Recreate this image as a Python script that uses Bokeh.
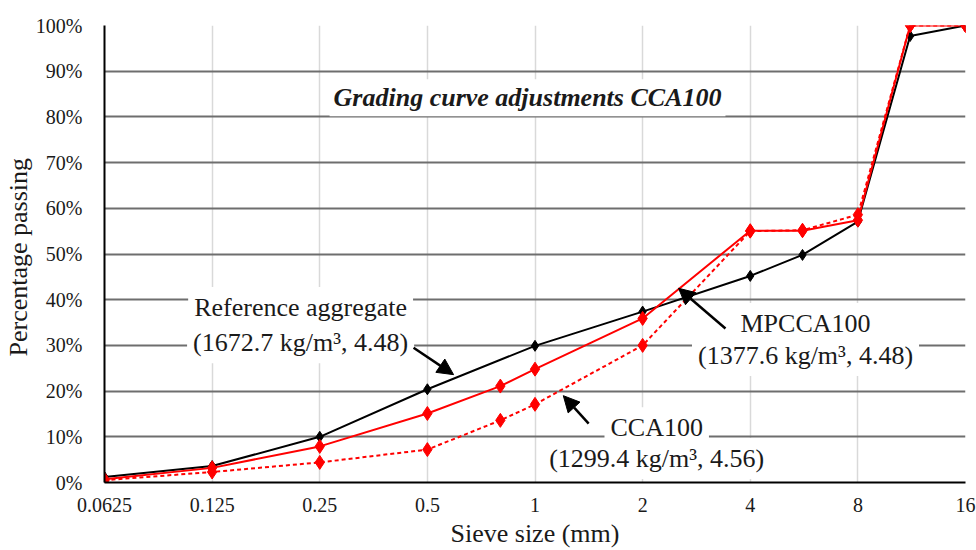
from bokeh.plotting import figure
from bokeh.models import (Label, Arrow, NormalHead, FixedTicker, CustomJSTickFormatter,
                          Range1d)
from bokeh.embed import file_html
from bokeh.resources import INLINE

# ---- data ----
sieve_ticks = [0.0625, 0.125, 0.25, 0.5, 1, 2, 4, 8, 16]
pct_ticks = [0, 10, 20, 30, 40, 50, 60, 70, 80, 90, 100]

ref_sieve = [0.0625, 0.125, 0.25, 0.5, 1, 2, 4, 5.6, 8, 11.2, 16]
ref_pass = [1.2, 3.6, 10.0, 20.4, 29.9, 37.4, 45.2, 49.8, 57.1, 97.7, 100]

mp_sieve = [0.0625, 0.125, 0.25, 0.5, 0.8, 1, 2, 4, 5.6, 8, 11.2, 16]
mp_pass = [0.7, 3.2, 7.9, 15.1, 21.1, 24.8, 35.9, 55.1, 55.1, 57.4, 100, 100]

cca_sieve = [0.0625, 0.125, 0.25, 0.5, 0.8, 1, 2, 4, 5.6, 8, 11.2, 16]
cca_pass = [0.5, 2.3, 4.4, 7.2, 13.6, 17.1, 30.0, 55.0, 55.2, 58.6, 100, 100]

FONT = "Liberation Serif"

p = figure(width=976, height=550, x_axis_type="log", output_backend="svg",
           toolbar_location=None, x_range=Range1d(0.0625, 16), y_range=Range1d(0, 100),
           min_border_left=104, min_border_top=25, min_border_bottom=68, min_border_right=11)
p.outline_line_color = None
p.background_fill_color = "white"

# axes
p.xaxis.ticker = FixedTicker(ticks=sieve_ticks)
p.xaxis.formatter = CustomJSTickFormatter(code="return tick.toString();")
p.yaxis.ticker = FixedTicker(ticks=pct_ticks)
p.yaxis.formatter = CustomJSTickFormatter(code="return tick.toFixed(0) + '%';")
for ax in (p.xaxis[0], p.yaxis[0]):
    ax.major_tick_line_color = None
    ax.minor_tick_line_color = None
    ax.axis_line_color = "black"
    ax.axis_line_width = 2
    ax.major_label_text_font = FONT
    ax.major_label_text_font_size = "20px"
    ax.major_label_text_color = "#1a1a1a"
    ax.axis_label_text_font = FONT
    ax.axis_label_text_font_size = "26px"
    ax.axis_label_text_font_style = "normal"
    ax.axis_label_text_color = "#1a1a1a"
p.xaxis.major_label_standoff = 9
p.yaxis.major_label_standoff = 16
p.xaxis.axis_label = "Sieve size (mm)"
p.xaxis.axis_label_standoff = 4
p.yaxis.axis_label = "Percentage  passing"
p.yaxis.axis_label_standoff = 0

# grid
p.ygrid.grid_line_color = "#6e6e6e"
p.ygrid.grid_line_width = 2
p.xgrid.grid_line_color = "#d9d9d9"
p.xgrid.grid_line_width = 1.5

# series
p.line(ref_sieve, ref_pass, line_color="black", line_width=2)
p.scatter(ref_sieve, ref_pass, marker="diamond", size=11, color="black")

p.line(cca_sieve, cca_pass, line_color="#ff0000", line_width=2, line_dash="4 3")
p.scatter(cca_sieve, cca_pass, marker="diamond", size=14, color="#ff0000")

p.line(mp_sieve, mp_pass, line_color="#ff0000", line_width=2)
p.scatter(mp_sieve, mp_pass, marker="diamond", size=14, color="#ff0000")

# annotations
def lab(x, y, text, size="26px", style="normal", pad=5):
    p.add_layout(Label(x=x, y=y, text=text, text_font=FONT, text_font_size=size,
                       text_font_style=style, text_align="center", text_baseline="middle",
                       text_color="#1a1a1a", background_fill_color="white",
                       padding=pad))

lab(0.953, 84.2, "Grading curve adjustments CCA100", style="bold italic", pad=4)

lab(0.221, 38.3, "Reference aggregate", pad=6)
lab(0.221, 30.6, "(1672.7 kg/m³, 4.48)", pad=6)

lab(5.71, 34.8, "MPCCA100", pad=6)
lab(5.71, 27.8, "(1377.6 kg/m³, 4.48)", pad=6)

lab(2.19, 12.0, "CCA100", pad=6)
lab(2.19, 5.25, "(1299.4 kg/m³, 4.56)", pad=6)

def arrow(x0, y0, x1, y1):
    p.add_layout(Arrow(end=NormalHead(size=16, fill_color="black", line_color="black"),
                       x_start=x0, y_start=y0, x_end=x1, y_end=y1,
                       line_color="black", line_width=2.5))

arrow(0.4575, 29.5, 0.592, 23.6)
arrow(3.41, 33.7, 2.52, 42.5)
arrow(1.413, 12.9, 1.20, 19.0)

open("out.html", "w").write(file_html(p, INLINE))
